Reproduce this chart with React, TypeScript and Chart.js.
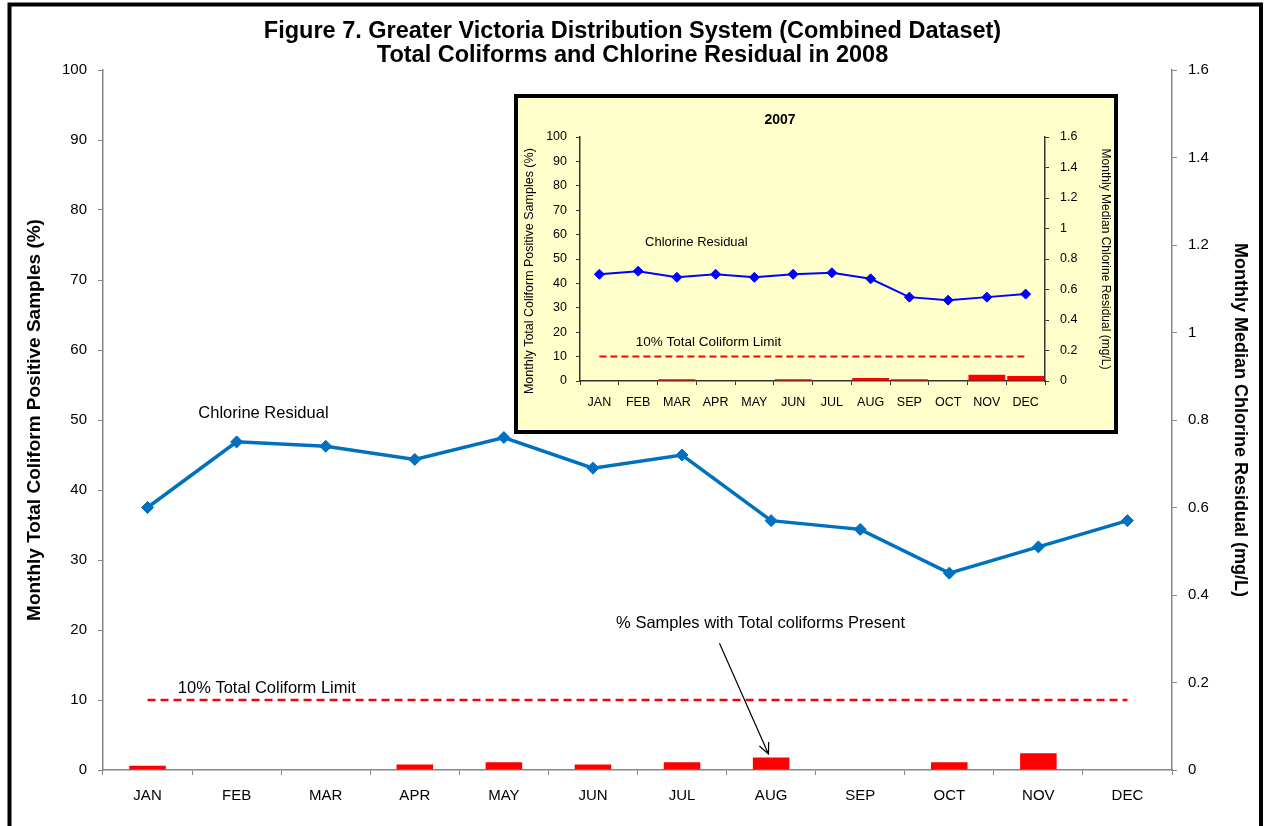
import React, { useEffect, useRef } from 'react';
import { Chart, registerables } from 'chart.js';

Chart.register(...registerables);

const FONT = '"Liberation Sans", Arial, sans-serif';

const MONTHS = ['JAN', 'FEB', 'MAR', 'APR', 'MAY', 'JUN', 'JUL', 'AUG', 'SEP', 'OCT', 'NOV', 'DEC'];

// 2008 (main chart)
const COLIFORM_2008 = [0.6, 0, 0, 0.8, 1.1, 0.8, 1.1, 1.8, 0, 1.1, 2.4, 0];
const CHLORINE_2008 = [0.6, 0.75, 0.74, 0.71, 0.76, 0.69, 0.72, 0.57, 0.55, 0.45, 0.51, 0.57];
const LIMIT_2008 = [10, 10, 10, 10, 10, 10, 10, 10, 10, 10, 10, 10];

// 2007 (inset chart)
const COLIFORM_2007 = [0, 0, 0.7, 0, 0, 0.7, 0, 1.2, 0.7, 0, 2.6, 2.1];
const CHLORINE_2007 = [0.7, 0.72, 0.68, 0.7, 0.68, 0.7, 0.71, 0.67, 0.55, 0.53, 0.55, 0.57];
const LIMIT_2007 = [10, 10, 10, 10, 10, 10, 10, 10, 10, 10, 10, 10];

// right-axis tick labels (0 .. 1.6 by 0.2)
const RIGHT_TICK_LABELS = ['0', '0.2', '0.4', '0.6', '0.8', '1', '1.2', '1.4', '1.6'];

const MAIN_TITLE = [
  'Figure 7. Greater Victoria Distribution System (Combined Dataset)',
  'Total Coliforms and Chlorine Residual in 2008',
];
const INSET_TITLE = '2007';
const LEFT_AXIS_TITLE = 'Monthly Total Coliform Positive Samples (%)';
const RIGHT_AXIS_TITLE = 'Monthly Median Chlorine Residual (mg/L)';
const LABEL_CHLORINE = 'Chlorine Residual';
const LABEL_LIMIT = '10% Total Coliform Limit';
const LABEL_SAMPLES = '% Samples with Total coliforms Present';

const GRAY = '#868686';
const DARK = '#333333';

const rightTick = (value: number) => {
  const i = Math.round(value / 0.2);
  return RIGHT_TICK_LABELS[i] ?? String(value);
};

export default function App() {
  const mainRef = useRef<HTMLCanvasElement | null>(null);
  const insetRef = useRef<HTMLCanvasElement | null>(null);

  useEffect(() => {
    if (!mainRef.current || !insetRef.current) return;

    const mainPlugin = {
      id: 'mainDecor',
      beforeDraw(chart: any) {
        const ctx = chart.ctx;
        ctx.save();
        ctx.fillStyle = '#ffffff';
        ctx.fillRect(0, 0, chart.width, chart.height);
        ctx.restore();
      },
      afterDraw(chart: any) {
        const { ctx } = chart;
        const x = chart.scales.x;
        const y = chart.scales.y;
        ctx.save();
        ctx.fillStyle = '#000';
        ctx.font = `16.5px ${FONT}`;
        ctx.textAlign = 'left';
        ctx.textBaseline = 'middle';
        ctx.fillText(LABEL_CHLORINE, x.getPixelForValue(0.57), y.getPixelForValue(50.9));
        ctx.fillText(LABEL_LIMIT, x.getPixelForValue(0.34), y.getPixelForValue(11.7));
        ctx.fillText(LABEL_SAMPLES, x.getPixelForValue(5.26), y.getPixelForValue(21.0));

        // arrow
        const x0 = x.getPixelForValue(6.42);
        const y0 = y.getPixelForValue(18.1);
        const x1 = x.getPixelForValue(6.97);
        const y1 = y.getPixelForValue(2.3);
        ctx.strokeStyle = '#000';
        ctx.lineWidth = 1.2;
        ctx.beginPath();
        ctx.moveTo(x0, y0);
        ctx.lineTo(x1, y1);
        const ang = Math.atan2(y1 - y0, x1 - x0);
        const len = 12;
        const spread = (25 * Math.PI) / 180;
        ctx.moveTo(x1 - len * Math.cos(ang - spread), y1 - len * Math.sin(ang - spread));
        ctx.lineTo(x1, y1);
        ctx.lineTo(x1 - len * Math.cos(ang + spread), y1 - len * Math.sin(ang + spread));
        ctx.stroke();

        // outer frame
        ctx.lineWidth = 4;
        ctx.strokeRect(9.5, 4.5, 1251.5, 900);
        ctx.restore();
      },
    };

    const main = new Chart(mainRef.current, {
      type: 'bar',
      data: {
        labels: MONTHS,
        datasets: [
          {
            type: 'line',
            label: 'Chlorine Residual',
            data: CHLORINE_2008,
            yAxisID: 'y1',
            borderColor: '#0070C0',
            backgroundColor: '#0070C0',
            borderWidth: 3.5,
            pointStyle: 'rectRot',
            pointRadius: 6,
            pointBorderWidth: 1,
            pointBackgroundColor: '#0070C0',
            pointBorderColor: '#0070C0',
            tension: 0,
          },
          {
            type: 'line',
            label: '10% Total Coliform Limit',
            data: LIMIT_2008,
            yAxisID: 'y',
            borderColor: '#FF0000',
            borderWidth: 2.5,
            borderDash: [8, 5],
            pointRadius: 0,
            tension: 0,
          },
          {
            type: 'bar',
            label: '% Samples with Total coliforms Present',
            data: COLIFORM_2008,
            yAxisID: 'y',
            backgroundColor: '#FF0000',
            borderWidth: 0,
            barPercentage: 0.41,
            categoryPercentage: 1,
          },
        ],
      },
      options: {
        responsive: false,
        animation: false,
        devicePixelRatio: 1,
        events: [],
        layout: { padding: { top: 5, left: 0, right: 0, bottom: 0 } },
        plugins: {
          legend: { display: false },
          tooltip: { enabled: false },
          title: {
            display: true,
            text: MAIN_TITLE,
            color: '#000',
            font: { family: FONT, size: 23.5, weight: 'bold', lineHeight: '24px' },
            padding: { top: 15, bottom: 2 },
          },
        },
        scales: {
          x: {
            type: 'category',
            offset: true,
            grid: {
              offset: true,
              drawOnChartArea: false,
              drawTicks: true,
              tickLength: 5,
              color: GRAY,
              tickColor: GRAY,
            },
            border: { color: GRAY, width: 1.5 },
            ticks: {
              font: { family: FONT, size: 15 },
              color: '#000',
              padding: 12,
              maxRotation: 0,
              autoSkip: false,
            },
            afterFit: (s: any) => {
              s.height = 56;
            },
          },
          y: {
            position: 'left',
            min: 0,
            max: 100,
            ticks: { stepSize: 10, font: { family: FONT, size: 15 }, color: '#000', padding: 11 },
            grid: { drawOnChartArea: false, drawTicks: true, tickLength: 5, color: GRAY, tickColor: GRAY },
            border: { color: GRAY, width: 1.5 },
            title: {
              display: true,
              text: LEFT_AXIS_TITLE,
              color: '#000',
              font: { family: FONT, size: 19, weight: 'bold' },
              padding: { top: 23.6, bottom: 0 },
            },
            afterFit: (s: any) => {
              s.width = 103;
            },
          },
          y1: {
            position: 'right',
            min: 0,
            max: 1.6,
            ticks: {
              stepSize: 0.2,
              font: { family: FONT, size: 15 },
              color: '#000',
              padding: 11,
              callback: (v: any) => rightTick(Number(v)),
            },
            grid: { drawOnChartArea: false, drawTicks: true, tickLength: 5, color: GRAY, tickColor: GRAY },
            border: { color: GRAY, width: 1.5 },
            title: {
              display: true,
              text: RIGHT_AXIS_TITLE,
              color: '#000',
              font: { family: FONT, size: 18, weight: 'bold' },
              padding: { top: 14.2, bottom: 0 },
            },
            afterFit: (s: any) => {
              s.width = 93;
            },
          },
        },
      },
      plugins: [mainPlugin],
    } as any);

    const insetPlugin = {
      id: 'insetDecor',
      beforeDraw(chart: any) {
        const ctx = chart.ctx;
        ctx.save();
        ctx.fillStyle = '#FFFFCC';
        ctx.fillRect(4, 4, 600, 336);
        ctx.restore();
      },
      afterDraw(chart: any) {
        const { ctx } = chart;
        const x = chart.scales.x;
        const y = chart.scales.y;
        ctx.save();
        ctx.fillStyle = '#000';
        ctx.textBaseline = 'middle';
        ctx.textAlign = 'center';
        ctx.font = `bold 14px ${FONT}`;
        ctx.fillText(INSET_TITLE, x.getPixelForValue(4.66), 28);
        ctx.textAlign = 'left';
        ctx.font = `13px ${FONT}`;
        ctx.fillText(LABEL_CHLORINE, x.getPixelForValue(1.18), y.getPixelForValue(56.6));
        ctx.font = `13.5px ${FONT}`;
        ctx.fillText(LABEL_LIMIT, x.getPixelForValue(0.94), y.getPixelForValue(16.0));
        ctx.strokeStyle = '#000';
        ctx.lineWidth = 4;
        ctx.strokeRect(4, 4, 600, 336);
        ctx.restore();
      },
    };

    const inset = new Chart(insetRef.current, {
      type: 'bar',
      data: {
        labels: MONTHS,
        datasets: [
          {
            type: 'line',
            label: 'Chlorine Residual',
            data: CHLORINE_2007,
            yAxisID: 'y1',
            borderColor: '#0000FF',
            backgroundColor: '#0000FF',
            borderWidth: 2,
            pointStyle: 'rectRot',
            pointRadius: 5,
            pointBorderWidth: 1,
            pointBackgroundColor: '#0000FF',
            pointBorderColor: '#0000FF',
            tension: 0,
          },
          {
            type: 'line',
            label: '10% Total Coliform Limit',
            data: LIMIT_2007,
            yAxisID: 'y',
            borderColor: '#FF0000',
            borderWidth: 2,
            borderDash: [7, 4],
            pointRadius: 0,
            tension: 0,
          },
          {
            type: 'bar',
            label: '% Samples with Total coliforms Present',
            data: COLIFORM_2007,
            yAxisID: 'y',
            backgroundColor: '#FF0000',
            borderWidth: 0,
            barPercentage: 0.95,
            categoryPercentage: 1,
          },
        ],
      },
      options: {
        responsive: false,
        animation: false,
        devicePixelRatio: 1,
        events: [],
        layout: { padding: { top: 45, left: 0, right: 0, bottom: 0 } },
        plugins: {
          legend: { display: false },
          tooltip: { enabled: false },
          title: { display: false },
        },
        scales: {
          x: {
            type: 'category',
            offset: true,
            grid: {
              offset: true,
              drawOnChartArea: false,
              drawTicks: true,
              tickLength: 4,
              color: DARK,
              tickColor: DARK,
            },
            border: { color: DARK, width: 1.5 },
            ticks: {
              font: { family: FONT, size: 12.5 },
              color: '#000',
              padding: 10,
              maxRotation: 0,
              autoSkip: false,
            },
            afterFit: (s: any) => {
              s.height = 55;
            },
          },
          y: {
            position: 'left',
            min: 0,
            max: 100,
            ticks: { stepSize: 10, font: { family: FONT, size: 12.5 }, color: '#000', padding: 9 },
            grid: { drawOnChartArea: false, drawTicks: true, tickLength: 4, color: DARK, tickColor: DARK },
            border: { color: DARK, width: 1.5 },
            title: {
              display: true,
              // trailing spaces nudge the centred label toward the bottom, as in the original
              text: LEFT_AXIS_TITLE + '       ',
              color: '#000',
              font: { family: FONT, size: 12.5 },
              padding: { top: 10.5, bottom: 0 },
            },
            afterFit: (s: any) => {
              s.width = 68;
            },
          },
          y1: {
            position: 'right',
            min: 0,
            max: 1.6,
            ticks: {
              stepSize: 0.2,
              font: { family: FONT, size: 12.5 },
              color: '#000',
              padding: 11,
              callback: (v: any) => rightTick(Number(v)),
            },
            grid: { drawOnChartArea: false, drawTicks: true, tickLength: 4, color: DARK, tickColor: DARK },
            border: { color: DARK, width: 1.5 },
            title: {
              display: true,
              text: RIGHT_AXIS_TITLE,
              color: '#000',
              font: { family: FONT, size: 12 },
              padding: { top: 7.8, bottom: 0 },
            },
            afterFit: (s: any) => {
              s.width = 75;
            },
          },
        },
      },
      plugins: [insetPlugin],
    } as any);

    return () => {
      main.destroy();
      inset.destroy();
    };
  }, []);

  return (
    <div
      style={{
        position: 'absolute',
        left: 0,
        top: 0,
        width: 1265,
        height: 826,
        overflow: 'hidden',
        background: '#ffffff',
      }}
    >
      <canvas
        ref={mainRef}
        width={1265}
        height={826}
        style={{ position: 'absolute', left: 0, top: 0, width: 1265, height: 826 }}
      />
      <canvas
        ref={insetRef}
        width={608}
        height={344}
        style={{ position: 'absolute', left: 512, top: 92, width: 608, height: 344 }}
      />
    </div>
  );
}
